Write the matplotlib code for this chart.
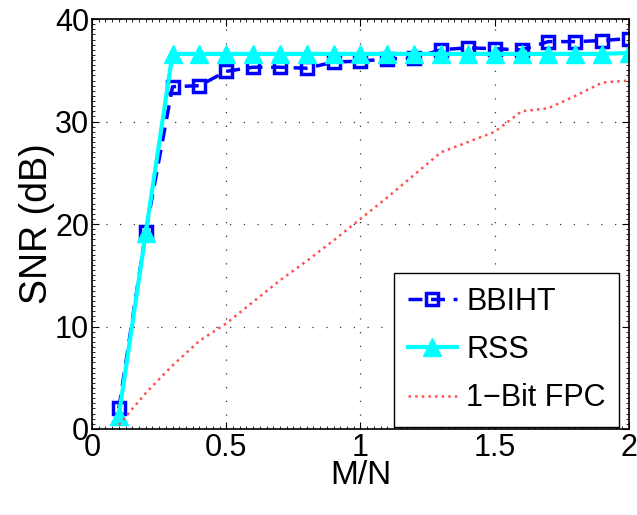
import matplotlib
matplotlib.use("Agg")
import matplotlib.pyplot as plt
from matplotlib.ticker import MultipleLocator

plt.rcParams["font.family"] = ["Liberation Sans", "DejaVu Sans"]

# M/N ratios
ratio = [0.1, 0.2, 0.3, 0.4, 0.5, 0.6, 0.7, 0.8, 0.9, 1.0,
         1.1, 1.2, 1.3, 1.4, 1.5, 1.6, 1.7, 1.8, 1.9, 2.0]

snr_bbiht = [2.0, 19.2, 33.4, 33.5, 34.9, 35.3, 35.3, 35.2, 35.8, 35.9,
             36.1, 36.2, 37.0, 37.2, 37.1, 37.0, 37.8, 37.8, 37.9, 38.1]
snr_rss = [1.3, 19.1, 36.6, 36.6, 36.6, 36.6, 36.6, 36.6, 36.6, 36.6,
           36.6, 36.6, 36.6, 36.6, 36.6, 36.6, 36.6, 36.6, 36.6, 36.7]
snr_fpc = [0.4, 3.5, 6.2, 8.6, 10.3, 12.4, 14.5, 16.4, 18.4, 20.5,
           22.6, 24.8, 27.0, 28.0, 29.0, 31.0, 31.3, 32.5, 33.8, 34.0]

fig = plt.figure(figsize=(6.37, 5.15), dpi=100)
ax = fig.add_axes([0.1444, 0.167, 0.843, 0.796])

ax.plot(ratio, snr_bbiht, "--s", color="blue", linewidth=2.5, markersize=8,
        markerfacecolor="none", markeredgewidth=2.5, dashes=(4, 2.5), label="BBIHT")
ax.plot(ratio, snr_rss, "-^", color="cyan", linewidth=3, markersize=13,
        markerfacecolor="cyan", label="RSS")
ax.plot(ratio, snr_fpc, ":", color="#ff5050", linewidth=1.8, label="1\u2212Bit FPC")

ax.set_xlim(0, 2)
ax.set_ylim(0, 40)
ax.set_xticks([0, 0.5, 1, 1.5, 2])
ax.set_xticklabels(["0", "0.5", "1", "1.5", "2"])
ax.set_yticks([0, 10, 20, 30, 40])
ax.xaxis.set_minor_locator(MultipleLocator(0.025))
ax.yaxis.set_minor_locator(MultipleLocator(0.5))
ax.tick_params(which="both", direction="in", top=True, right=True, labelsize=22)
ax.tick_params(axis="x", pad=3)
ax.tick_params(axis="y", pad=2)
ax.tick_params(which="major", length=5)
ax.tick_params(which="minor", length=2, width=0.6)
for s in ax.spines.values():
    s.set_linewidth(1.2)

ax.grid(True, which="major", linestyle=(0, (1, 10)), color="#333333", linewidth=0.9)

ax.set_xlabel("M/N", fontsize=24, labelpad=-2)
ax.set_ylabel("SNR (dB)", fontsize=27, labelpad=0)

leg = ax.legend(loc="lower right", bbox_to_anchor=(0.982, 0.005), fontsize=22,
                fancybox=False, framealpha=1, edgecolor="black", borderpad=0.45,
                handlelength=1.6, handletextpad=0.3, labelspacing=0.6, borderaxespad=0)
leg.get_frame().set_linewidth(1.0)

fig.savefig("out.png", dpi=100)
